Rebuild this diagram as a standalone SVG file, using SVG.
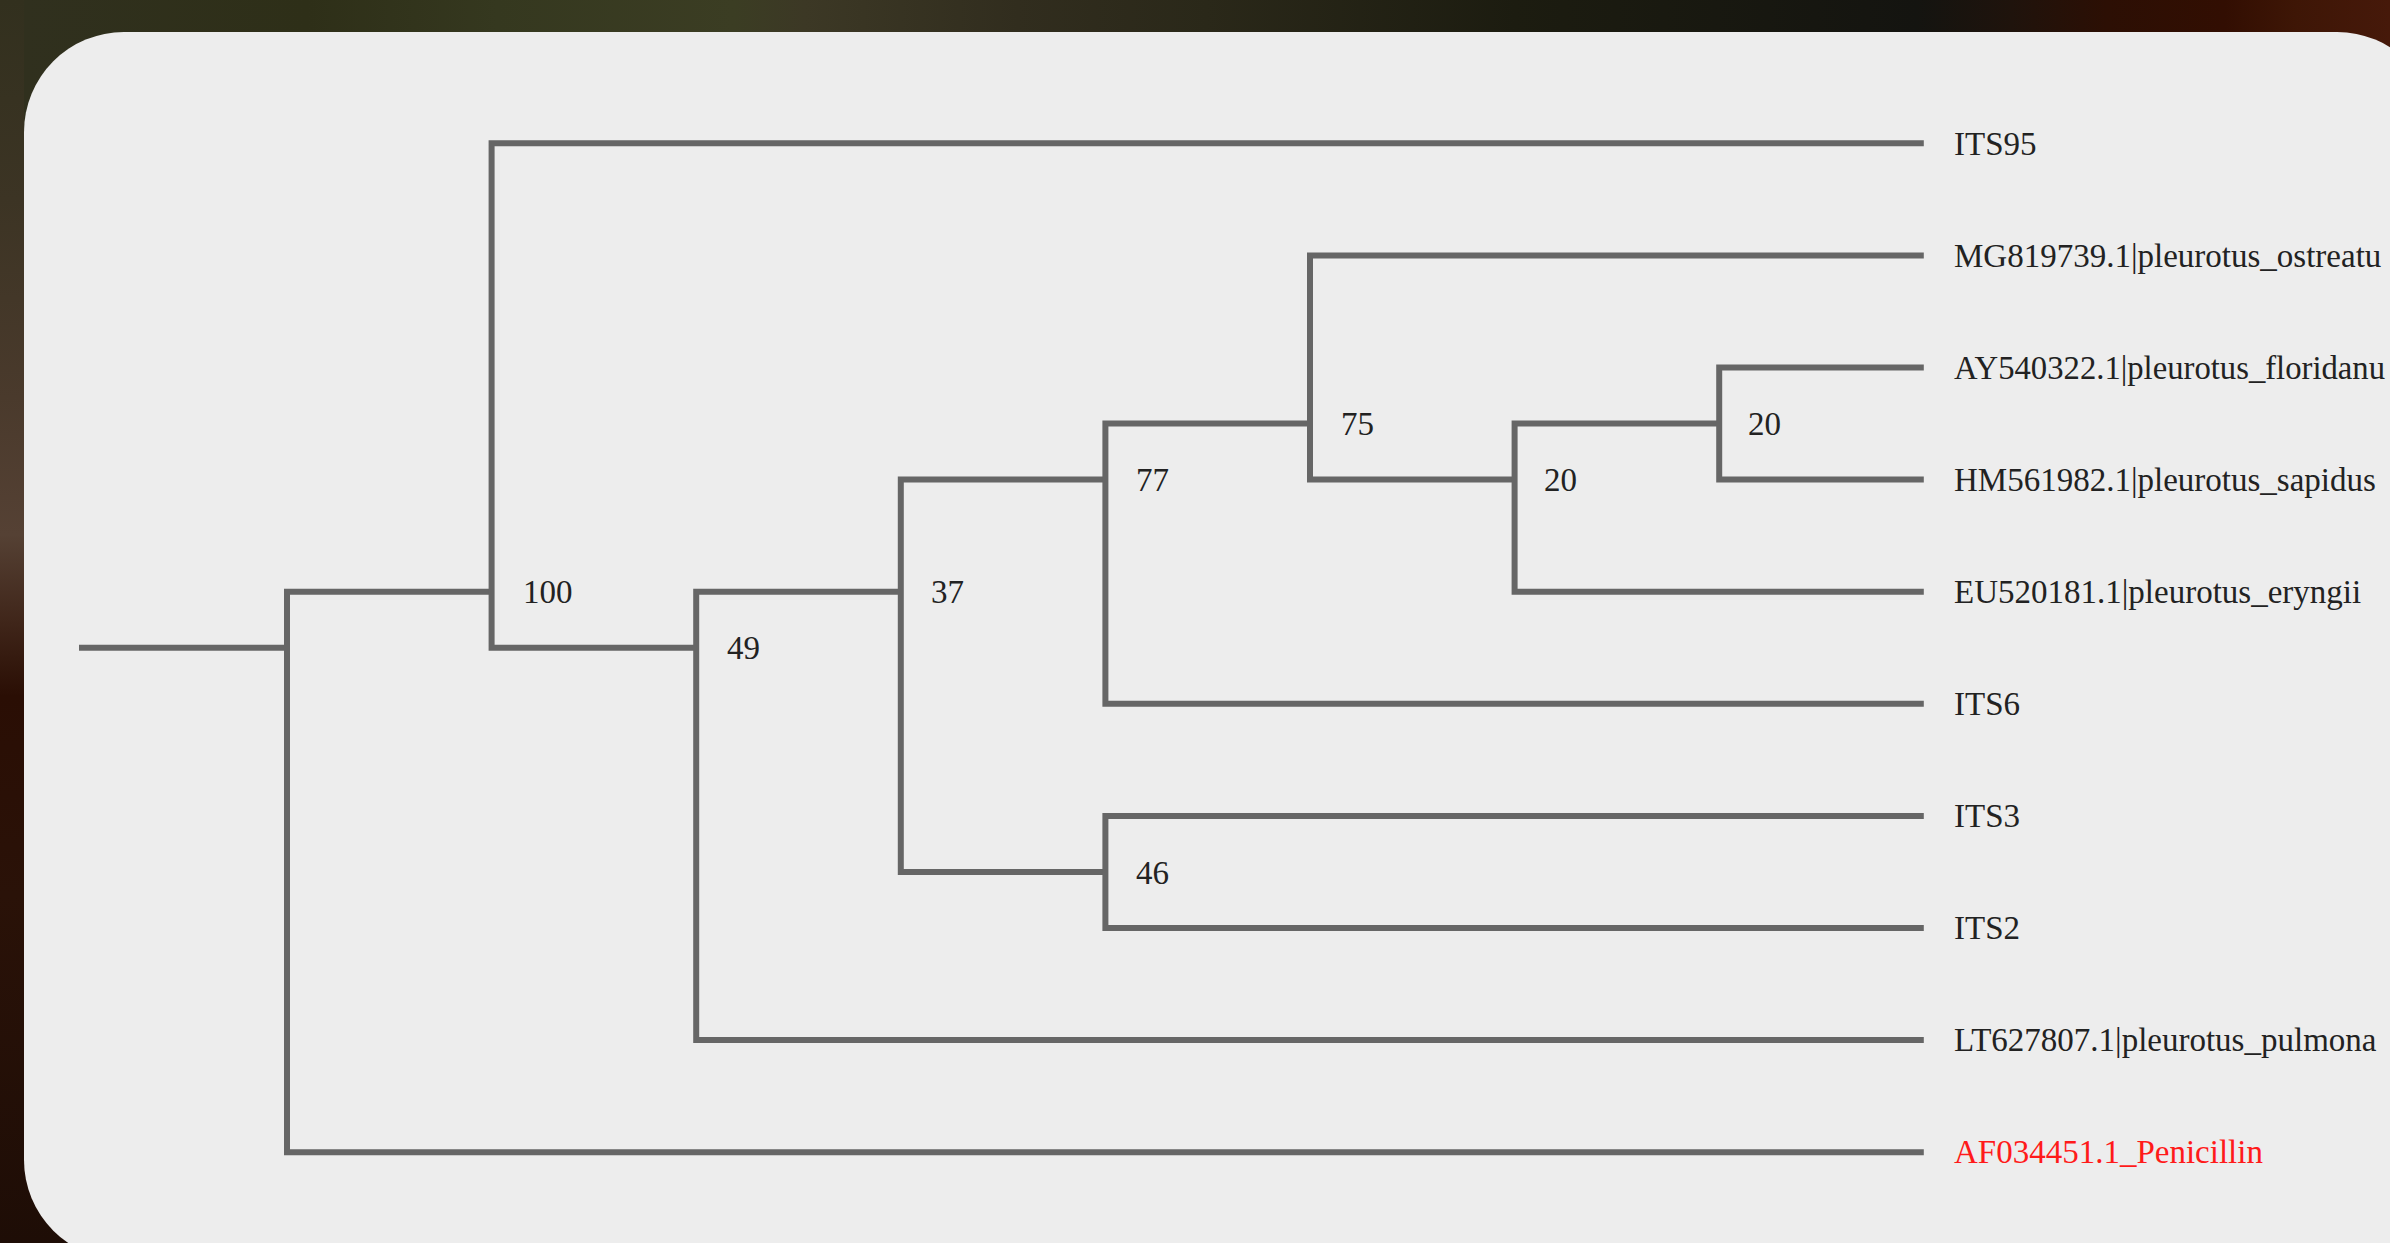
<svg xmlns="http://www.w3.org/2000/svg" width="2390" height="1243" viewBox="0 0 2390 1243">
  <defs>
    <linearGradient id="vg" x1="0" y1="0" x2="0" y2="1">
      <stop offset="0" stop-color="#32301e"/>
      <stop offset="0.16" stop-color="#3c3424"/>
      <stop offset="0.32" stop-color="#4a3a2c"/>
      <stop offset="0.43" stop-color="#554134"/>
      <stop offset="0.50" stop-color="#40261a"/>
      <stop offset="0.56" stop-color="#2a0e04"/>
      <stop offset="0.72" stop-color="#2a1208"/>
      <stop offset="1" stop-color="#1e0d06"/>
    </linearGradient>
    <linearGradient id="hg" x1="0" y1="0" x2="1" y2="0">
      <stop offset="0" stop-color="#30301e"/>
      <stop offset="0.12" stop-color="#2e2f18"/>
      <stop offset="0.2" stop-color="#35381f"/>
      <stop offset="0.3" stop-color="#3b3d23"/>
      <stop offset="0.33" stop-color="#3c3825"/>
      <stop offset="0.42" stop-color="#312d1e"/>
      <stop offset="0.5" stop-color="#2a2819"/>
      <stop offset="0.63" stop-color="#1c1c10"/>
      <stop offset="0.8" stop-color="#141410"/>
      <stop offset="0.84" stop-color="#1f130c"/>
      <stop offset="0.88" stop-color="#2c0f04"/>
      <stop offset="0.93" stop-color="#320e02"/>
      <stop offset="0.96" stop-color="#3e1606"/>
      <stop offset="1" stop-color="#46190a"/>
    </linearGradient>
  </defs>
  <style>
    .br { fill: none; stroke: #666666; stroke-width: 6; stroke-linejoin: miter; stroke-linecap: butt; }
    .lf { font-family: "Liberation Serif", "Times New Roman", serif; font-size: 33px; fill: #222222; }
    .bs { font-family: "Liberation Serif", "Times New Roman", serif; font-size: 33px; fill: #222222; }
    .out { fill: #ff1a1a; }
  </style>

  <rect x="0" y="0" width="2390" height="1243" fill="url(#vg)"/>
  <rect x="24" y="0" width="2366" height="140" fill="url(#hg)"/>
  <rect x="24" y="32" width="2413" height="1228" rx="100" ry="100" fill="#ededed"/>

  <g id="connectors">
    <path class="br" d="M79 647.75 H287"/>
    <path class="br" d="M491.6 591.7 H287 V1152.2 H1923.8"/>
    <path class="br" d="M1923.8 143.3 H491.6 V647.75 H696.2"/>
    <path class="br" d="M900.8 591.7 H696.2 V1040.1 H1923.8"/>
    <path class="br" d="M1105.4 479.6 H900.8 V871.95 H1105.4"/>
    <path class="br" d="M1310 423.55 H1105.4 V703.8 H1923.8"/>
    <path class="br" d="M1923.8 815.9 H1105.4 V928 H1923.8"/>
    <path class="br" d="M1923.8 255.4 H1310 V479.6 H1514.6"/>
    <path class="br" d="M1719.2 423.55 H1514.6 V591.7 H1923.8"/>
    <path class="br" d="M1923.8 367.5 H1719.2 V479.6 H1923.8"/>
  </g>

  <g id="node-A"><text class="bs" x="523" y="603.2">100</text></g>
  <g id="node-B"><text class="bs" x="727" y="659.3">49</text></g>
  <g id="node-C"><text class="bs" x="931" y="603.2">37</text></g>
  <g id="node-D"><text class="bs" x="1136" y="491.1">77</text></g>
  <g id="node-E"><text class="bs" x="1136" y="883.5">46</text></g>
  <g id="node-F"><text class="bs" x="1341" y="435">75</text></g>
  <g id="node-G"><text class="bs" x="1544" y="491.1">20</text></g>
  <g id="node-H"><text class="bs" x="1748" y="435">20</text></g>

  <g id="leaf-ITS95"><text class="lf" x="1954" y="154.5">ITS95</text></g>
  <g id="leaf-MG819739"><text class="lf" x="1954" y="266.6">MG819739.1|pleurotus_ostreatu</text></g>
  <g id="leaf-AY540322"><text class="lf" x="1954" y="378.7" textLength="431" lengthAdjust="spacingAndGlyphs">AY540322.1|pleurotus_floridanu</text></g>
  <g id="leaf-HM561982"><text class="lf" x="1954" y="490.8">HM561982.1|pleurotus_sapidus</text></g>
  <g id="leaf-EU520181"><text class="lf" x="1954" y="602.9">EU520181.1|pleurotus_eryngii</text></g>
  <g id="leaf-ITS6"><text class="lf" x="1954" y="715">ITS6</text></g>
  <g id="leaf-ITS3"><text class="lf" x="1954" y="827.1">ITS3</text></g>
  <g id="leaf-ITS2"><text class="lf" x="1954" y="939.2">ITS2</text></g>
  <g id="leaf-LT627807"><text class="lf" x="1954" y="1051.3">LT627807.1|pleurotus_pulmona</text></g>
  <g id="leaf-AF034451"><text class="lf out" x="1954" y="1163.4">AF034451.1_Penicillin</text></g>
</svg>
